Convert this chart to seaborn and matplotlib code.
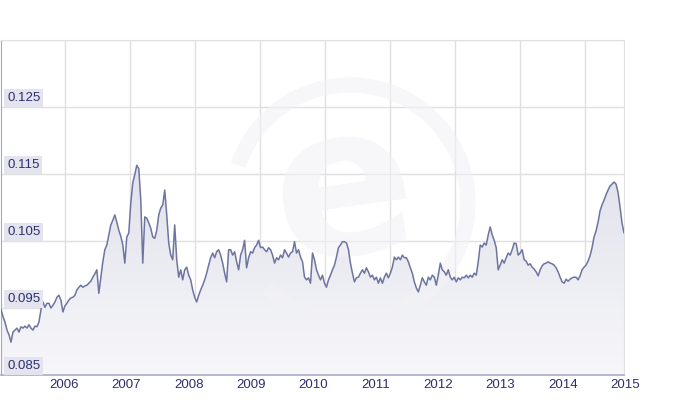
import numpy as np
import pandas as pd
import matplotlib
matplotlib.use("Agg")
import matplotlib.pyplot as plt
import matplotlib.dates as mdates
import matplotlib.transforms as mtransforms
from matplotlib.patches import Arc
import seaborn as sns

# exchange rate readings, roughly every 12 days, Apr 2005 - Apr 2015
rates_05_07 = [0.0948, 0.0937, 0.0929, 0.0917, 0.0910, 0.0899, 0.0914, 0.0917, 0.0920, 0.0914,
               0.0922, 0.0920, 0.0923, 0.0920, 0.0925, 0.0920, 0.0917, 0.0923, 0.0922, 0.0929,
               0.0947, 0.0959, 0.0951, 0.0957, 0.0957, 0.0950, 0.0954, 0.0959, 0.0966, 0.0969,
               0.0962, 0.0944, 0.0953, 0.0957, 0.0962, 0.0965, 0.0966, 0.0969, 0.0977, 0.0981,
               0.0984, 0.0981, 0.0983, 0.0984, 0.0987, 0.0990, 0.0996, 0.1001, 0.1007, 0.0972,
               0.0996, 0.1019, 0.1037]
rates_07_09 = [0.1044, 0.1059, 0.1074, 0.1081, 0.1089, 0.1078, 0.1066, 0.1057, 0.1044, 0.1017,
               0.1056, 0.1062, 0.1107, 0.1137, 0.1149, 0.1163, 0.1158, 0.1111, 0.1017, 0.1086,
               0.1084, 0.1077, 0.1069, 0.1056, 0.1054, 0.1066, 0.1089, 0.1099, 0.1104, 0.1126,
               0.1089, 0.1047, 0.1029, 0.1022, 0.1074, 0.1022, 0.0996, 0.1007, 0.0992, 0.1007,
               0.1011, 0.0999, 0.0992, 0.0977, 0.0966, 0.0959, 0.0969, 0.0977, 0.0984, 0.0992,
               0.1002, 0.1014, 0.1025, 0.1032, 0.1025, 0.1034, 0.1037, 0.1029, 0.1017, 0.1002,
               0.0989, 0.1037]
rates_09_11 = [0.1037, 0.1029, 0.1034, 0.1019, 0.1007, 0.1029, 0.1037, 0.1051, 0.1010, 0.1025,
               0.1034, 0.1032, 0.1040, 0.1044, 0.1051, 0.1040, 0.1041, 0.1037, 0.1034, 0.1040,
               0.1037, 0.1029, 0.1017, 0.1025, 0.1022, 0.1029, 0.1025, 0.1037, 0.1032, 0.1026,
               0.1032, 0.1034, 0.1049, 0.1032, 0.1037, 0.1026, 0.1019, 0.0996, 0.0992, 0.0995,
               0.0987, 0.1032, 0.1022, 0.1007, 0.0999, 0.0992, 0.0999, 0.0987, 0.0981, 0.0992,
               0.0999, 0.1007, 0.1014, 0.1026, 0.1040, 0.1044, 0.1049, 0.1049, 0.1047, 0.1037,
               0.1017, 0.1002, 0.0989]
rates_11_13 = [0.0995, 0.0996, 0.1002, 0.1007, 0.1002, 0.1010, 0.1004, 0.0996, 0.0999, 0.0992,
               0.0996, 0.0987, 0.0995, 0.0987, 0.0996, 0.1002, 0.0995, 0.1002, 0.1011, 0.1026,
               0.1022, 0.1026, 0.1022, 0.1029, 0.1025, 0.1025, 0.1019, 0.1010, 0.1002, 0.0989,
               0.0980, 0.0974, 0.0984, 0.0995, 0.0989, 0.0984, 0.0996, 0.0992, 0.0999, 0.0996,
               0.0984, 0.0999, 0.1017, 0.1007, 0.1004, 0.0999, 0.1007, 0.0996, 0.0992, 0.0996,
               0.0989, 0.0995, 0.0992, 0.0996, 0.0995, 0.0999, 0.0995, 0.0999, 0.0996, 0.1002,
               0.0999, 0.1019]
rates_13_15 = [0.1044, 0.1041, 0.1047, 0.1044, 0.1059, 0.1071, 0.1059, 0.1051, 0.1040, 0.1007,
               0.1014, 0.1022, 0.1017, 0.1025, 0.1032, 0.1029, 0.1037, 0.1047, 0.1046, 0.1029,
               0.1032, 0.1037, 0.1022, 0.1020, 0.1014, 0.1016, 0.1011, 0.1008, 0.1004, 0.0998,
               0.1007, 0.1013, 0.1016, 0.1017, 0.1019, 0.1017, 0.1016, 0.1014, 0.1010, 0.1004,
               0.0996, 0.0989, 0.0987, 0.0993, 0.0990, 0.0993, 0.0995, 0.0996, 0.0996, 0.0992,
               0.0998, 0.1007, 0.1011, 0.1014, 0.1020, 0.1028, 0.1040, 0.1056, 0.1065, 0.1078,
               0.1095, 0.1104, 0.1111, 0.1119, 0.1126, 0.1132, 0.1135, 0.1138, 0.1135, 0.1123,
               0.1101, 0.1077, 0.1062]

rates = rates_05_07 + rates_07_09 + rates_09_11 + rates_11_13 + rates_13_15
dates = pd.date_range("2005-04-22", "2015-04-21", periods=len(rates))
df = pd.DataFrame({"date": dates, "rate": rates})

y_ticks = [0.085, 0.095, 0.105, 0.115, 0.125]
y_grid = [0.085, 0.095, 0.105, 0.115, 0.125, 0.135]
year_ticks = ["2006", "2007", "2008", "2009", "2010", "2011", "2012", "2013", "2014", "2015"]

sns.set_style("white")
plt.rcParams['font.family'] = ['Liberation Sans', 'DejaVu Sans']

line_col = "#6d74a0"
text_col = "#2c2f6b"
grid_col = "#e0e0e0"

fig = plt.figure(figsize=(6.84, 4.0), dpi=100)
ax = fig.add_axes([1 / 684, 25 / 400, 623 / 684, 335 / 400])

x0 = mdates.date2num(dates[0])
x1 = mdates.date2num(dates[-1])
ymin, ymax = 0.085, 0.135

# gradient fill under the curve (darker near the top)
poly = ax.fill_between(df["date"], df["rate"], ymin, color="none", lw=0)
grad = np.linspace(0, 1, 256).reshape(-1, 1)
cmap = matplotlib.colors.LinearSegmentedColormap.from_list("g", ["#f7f7fa", "#d3d5e2"])
img = ax.imshow(grad, extent=[x0, x1, ymin, ymax], aspect="auto", cmap=cmap,
                origin="lower", zorder=1)
img.set_clip_path(poly.get_paths()[0], transform=ax.transData)

# faint watermark, kept under the line
wm_col = "#f2f2f6"
ring = Arc((350 / 684, 197 / 400), 236 / 684, 236 / 400, theta1=-120, theta2=150,
           transform=fig.transFigure, lw=11, color=wm_col, alpha=0.6, zorder=2)
ax.add_patch(ring)
ax.text(345 / 684, 205 / 400, "e", transform=fig.transFigure, fontsize=150,
        fontweight="bold", color=wm_col, alpha=0.6, ha="center", va="center",
        zorder=2, family="DejaVu Sans", rotation=8)

sns.lineplot(data=df, x="date", y="rate", ax=ax, color=line_col, lw=1.1, zorder=3)

ax.set_xlim(x0, x1)
ax.set_ylim(ymin, ymax)

# grid: horizontal at every 0.01, vertical at a fixed spacing
ax.set_yticks(y_grid)
ax.yaxis.grid(True, color=grid_col, lw=1)
ax.tick_params(axis="y", length=0, labelleft=False)
vgrid = x0 + (x1 - x0) * np.arange(64, 623, 65) / 623
ax.set_xticks(vgrid, minor=True)
ax.xaxis.grid(True, which="minor", color=grid_col, lw=1)
year_pos = [mdates.date2num(pd.Timestamp(y + "-01-01")) for y in year_ticks]
ax.set_xticks(year_pos)
ax.tick_params(axis="x", which="major", length=14, width=1, color="#d4d4dc",
               labelbottom=False)
ax.tick_params(axis="x", which="minor", length=0)
ax.set_axisbelow(True)
ax.set_xlabel("")
ax.set_ylabel("")

for side in ["top", "right"]:
    ax.spines[side].set_color(grid_col)
ax.spines["left"].set_color("#a3a6c9")
ax.spines["bottom"].set_color("#a9abc8")
ax.spines["bottom"].set_linewidth(1.2)

# year labels to the right of their ticks
lab_tr = mtransforms.offset_copy(ax.get_xaxis_transform(), fig=fig, x=5, y=-10, units="dots")
for pos, lab in zip(year_pos, year_ticks):
    ax.text(pos, 0, lab, transform=lab_tr, ha="left", va="center", fontsize=9.5,
            color=text_col, clip_on=False)

# y labels inside the plot, sitting on their grid lines
ylab_tr = mtransforms.offset_copy(ax.get_yaxis_transform(), fig=fig, x=6, y=3, units="dots")
for v in y_ticks:
    ax.text(0, v, f"{v:.3f}", transform=ylab_tr, ha="left", va="bottom", fontsize=9.5,
            color=text_col, zorder=4,
            bbox=dict(boxstyle="square,pad=0.2", fc="#e4e4ef", ec="none"))

fig.savefig("out.png", dpi=100)
